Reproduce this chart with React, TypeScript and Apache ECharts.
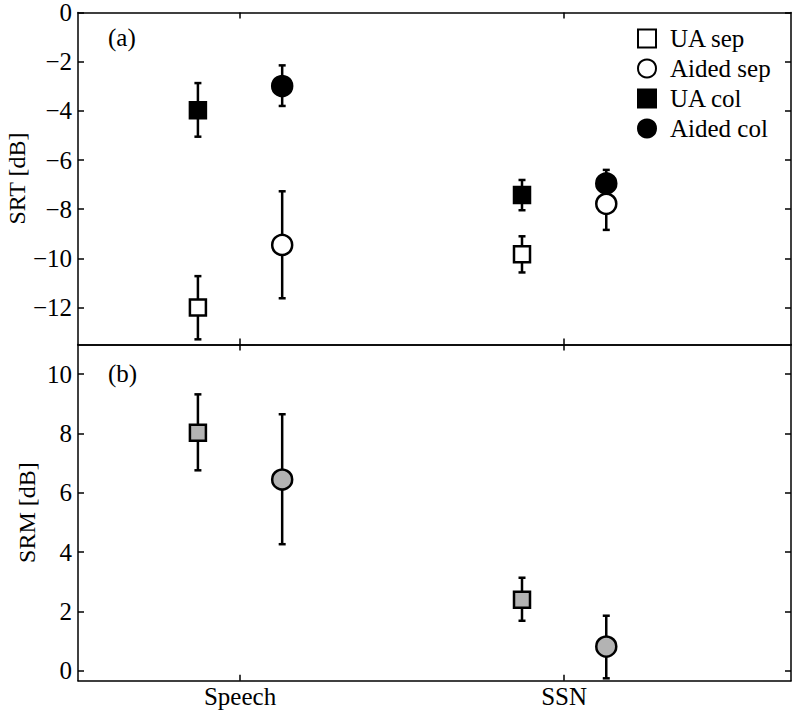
import React, { useEffect, useRef } from "react";
import * as echarts from "echarts";

const categories = ["Speech", "SSN"];
// Top panel (a): SRT [dB]
const uaSep = [-12.0, -9.83];
const uaSepLo = [-13.29, -10.57];
const uaSepHi = [-10.72, -9.1];
const aidedSep = [-9.45, -7.78];
const aidedSepLo = [-11.62, -8.84];
const aidedSepHi = [-7.27, -6.72];
const uaCol = [-3.97, -7.42];
const uaColLo = [-5.05, -8.04];
const uaColHi = [-2.87, -6.81];
const aidedCol = [-2.99, -6.95];
const aidedColLo = [-3.8, -7.5];
const aidedColHi = [-2.15, -6.4];
// Bottom panel (b): SRM [dB]
const srmUA = [8.03, 2.4];
const srmUALo = [6.76, 1.69];
const srmUAHi = [9.32, 3.14];
const srmAided = [6.45, 0.82];
const srmAidedLo = [4.27, -0.25];
const srmAidedHi = [8.65, 1.86];

const srtTicks = [-12, -10, -8, -6, -4, -2, 0];
const srmTicks = [0, 2, 4, 6, 8, 10];

const OFFSET = 0.13;
const FONT = "Liberation Serif, Times New Roman, serif";
const FS = 25;

const catX = categories.map((_, i) => i + 1);

export default function App() {
  const ref = useRef<HTMLDivElement>(null);
  useEffect(() => {
    if (!ref.current) return;
    const chart = echarts.init(ref.current, null, { renderer: "svg" });

    const pts = (vals: number[], off: number) => vals.map((v, i) => [catX[i] + off, v]);
    const errs = (lo: number[], hi: number[], off: number) => lo.map((l, i) => [catX[i] + off, l, hi[i]]);

    const lineStyle = { stroke: "#000", lineWidth: 2.5 };
    const renderErr = (_p: any, api: any) => {
      const x = api.value(0);
      const pLo = api.coord([x, api.value(1)]);
      const pHi = api.coord([x, api.value(2)]);
      const w = 3.5;
      return {
        type: "group",
        children: [
          { type: "line", shape: { x1: pLo[0], y1: pLo[1], x2: pHi[0], y2: pHi[1] }, style: lineStyle },
          { type: "line", shape: { x1: pLo[0] - w, y1: pLo[1], x2: pLo[0] + w, y2: pLo[1] }, style: lineStyle },
          { type: "line", shape: { x1: pHi[0] - w, y1: pHi[1], x2: pHi[0] + w, y2: pHi[1] }, style: lineStyle },
        ],
      };
    };
    const errSeries = (data: number[][], xi: number, yi: number) => ({
      type: "custom",
      xAxisIndex: xi,
      yAxisIndex: yi,
      renderItem: renderErr,
      data,
      z: 1,
      silent: true,
    });
    const scatter = (name: string, data: number[][], symbol: string, size: number, fill: string, xi: number, yi: number) => ({
      type: "scatter",
      name,
      xAxisIndex: xi,
      yAxisIndex: yi,
      data,
      symbol,
      symbolSize: size,
      itemStyle: { color: fill, borderColor: "#000", borderWidth: 2.5, opacity: 1 },
      z: 3,
    });

    const axisLine = { show: true, lineStyle: { color: "#000", width: 1.5 } };
    const fmtNum = (v: number) => String(v).replace("-", "\u2212");
    const xBase = (grid: number, pos: string, labels: boolean) => ({
      type: "value",
      gridIndex: grid,
      position: pos,
      min: 0.5,
      max: 2.7,
      axisLine: { ...axisLine, onZero: false },
      splitLine: { show: false },
      axisTick: { show: true, inside: true, length: 6, customValues: catX, lineStyle: { color: "#000", width: 1.5 } },
      axisLabel: labels
        ? { show: true, customValues: catX, formatter: (v: number) => categories[Math.round(v) - 1] ?? "", color: "#000", fontSize: FS, fontFamily: FONT, margin: 5, lineHeight: 22 }
        : { show: false },
    });
    const yBase = (grid: number, pos: string, min: number, max: number, ticks: number[], name?: string, nameGap?: number) => ({
      type: "value",
      gridIndex: grid,
      position: pos,
      min,
      max,
      name: name ?? "",
      nameLocation: "middle",
      nameGap: nameGap ?? 0,
      nameMoveOverlap: false,
      nameTextStyle: { color: "#000", fontSize: 24, fontFamily: FONT, lineHeight: 20 },
      axisLine: { ...axisLine, onZero: false },
      splitLine: { show: false },
      axisTick: { show: true, inside: true, length: 6, customValues: ticks, lineStyle: { color: "#000", width: 1.5 } },
      axisLabel: name
        ? { show: true, customValues: ticks, formatter: fmtNum, color: "#000", fontSize: FS, fontFamily: FONT, margin: 6, lineHeight: 18 }
        : { show: false },
    });

    chart.setOption({
      animation: false,
      backgroundColor: "#fff",
      grid: [
        { left: 78, right: 2, top: 12.5, height: 332, outerBoundsMode: "none", containLabel: false },
        { left: 78, right: 2, top: 344.5, height: 336.2, outerBoundsMode: "none", containLabel: false },
      ],
      xAxis: [xBase(0, "bottom", false), xBase(0, "top", false), xBase(1, "bottom", true), xBase(1, "top", false)],
      yAxis: [
        yBase(0, "left", -13.5, 0, srtTicks, "SRT [dB]", 51),
        yBase(0, "right", -13.5, 0, srtTicks),
        yBase(1, "left", -0.33, 11, srmTicks, "SRM [dB]", 41),
        yBase(1, "right", -0.33, 11, srmTicks),
      ],
      legend: {
        orient: "vertical",
        left: 632,
        top: 21,
        itemWidth: 18,
        itemHeight: 18,
        itemGap: 5,
        data: ["UA sep", "Aided sep", "UA col", "Aided col"],
        textStyle: { color: "#000", fontSize: FS, fontFamily: FONT, padding: [0, 0, 0, 9], lineHeight: 25 },
      },
      graphic: [
        { type: "text", left: 108, top: 25, style: { text: "(a)", fontSize: FS, fontFamily: FONT, fill: "#000" } },
        { type: "text", left: 108, top: 361, style: { text: "(b)", fontSize: FS, fontFamily: FONT, fill: "#000" } },
      ],
      series: [
        errSeries(errs(uaSepLo, uaSepHi, -OFFSET), 0, 0),
        errSeries(errs(aidedSepLo, aidedSepHi, OFFSET), 0, 0),
        errSeries(errs(uaColLo, uaColHi, -OFFSET), 0, 0),
        errSeries(errs(aidedColLo, aidedColHi, OFFSET), 0, 0),
        scatter("UA sep", pts(uaSep, -OFFSET), "rect", 16, "#fff", 0, 0),
        scatter("Aided sep", pts(aidedSep, OFFSET), "circle", 20, "#fff", 0, 0),
        scatter("UA col", pts(uaCol, -OFFSET), "rect", 16, "#000", 0, 0),
        scatter("Aided col", pts(aidedCol, OFFSET), "circle", 20, "#000", 0, 0),
        errSeries(errs(srmUALo, srmUAHi, -OFFSET), 2, 2),
        errSeries(errs(srmAidedLo, srmAidedHi, OFFSET), 2, 2),
        scatter("SRM UA", pts(srmUA, -OFFSET), "rect", 16, "#b3b3b3", 2, 2),
        scatter("SRM Aided", pts(srmAided, OFFSET), "circle", 20, "#b3b3b3", 2, 2),
      ],
    });
    return () => chart.dispose();
  }, []);
  return <div ref={ref} style={{ position: "fixed", left: 0, top: 0, width: 793, height: 715 }} />;
}
